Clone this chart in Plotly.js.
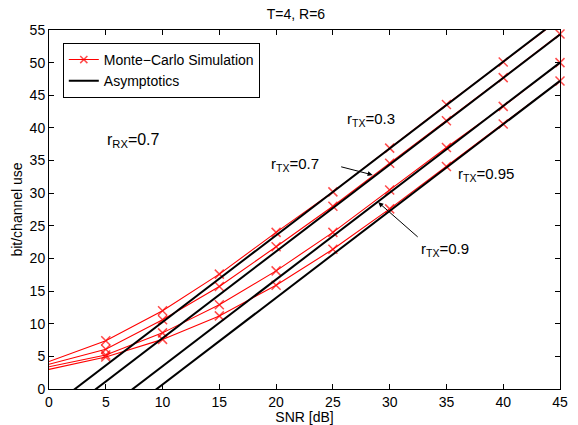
<!DOCTYPE html>
<html>
<head>
<meta charset="utf-8">
<script src="https://cdn.plot.ly/plotly-3.0.1.min.js"></script>
<style>html,body{margin:0;padding:0;background:#fff;}#chart{width:578px;height:425px;}</style>
</head>
<body>
<div id="chart"></div>
<script>
// SNR grid of the Monte-Carlo simulation [dB]
const snr = [0, 5, 10, 15, 20, 25, 30, 35, 40, 45];
// Monte-Carlo simulation results [bit/channel use]
const mc_r03  = [4.2, 7.4, 12.0, 17.6, 24.0, 30.2, 36.9, 43.6, 50.1, 56.7];
const mc_r07  = [3.8, 6.1, 10.6, 15.7, 21.8, 28.0, 34.6, 41.1, 47.7, 54.4];
const mc_r09  = [3.4, 5.2, 8.6, 12.9, 18.1, 24.0, 30.5, 37.0, 43.3, 50.0];
const mc_r095 = [3.0, 4.9, 7.6, 11.2, 15.9, 21.4, 27.6, 34.1, 40.6, 47.2];
// Asymptotic lines (end points)
const asymSnr = [0, 45];
const as_r03  = [-3.04, 56.8];
const as_r07  = [-5.5, 54.3];
const as_r09  = [-9.8, 50.0];
const as_r095 = [-12.6, 47.2];
// Tick values
const xTicks = [0, 5, 10, 15, 20, 25, 30, 35, 40, 45];
const yTicks = [0, 5, 10, 15, 20, 25, 30, 35, 40, 45, 50, 55];

const xMin = 0, xMax = 45, yMin = 0, yMax = 55;
const red = '#ff0000';
const mcSeries = [mc_r03, mc_r07, mc_r09, mc_r095];
const asSeries = [as_r03, as_r07, as_r09, as_r095];

const traces = [];
mcSeries.forEach((ys, i) => {
  // markers are shown only inside the axes (first SNR point has no marker in the source)
  const sizes = ys.map((v, k) => (snr[k] > xMin && v <= yMax) ? 9 : 0);
  traces.push({
    x: snr, y: ys, mode: 'lines+markers', type: 'scatter', cliponaxis: false,
    line: {color: red, width: 1.1},
    marker: {symbol: 'x-thin', size: sizes, line: {color: red, width: 1.5}, color: red},
    name: 'Monte\u2212Carlo Simulation', showlegend: i === 0, legendrank: 1,
    hoverinfo: 'skip'
  });
});
asSeries.forEach((ys, i) => {
  traces.push({
    x: asymSnr, y: ys, mode: 'lines', type: 'scatter',
    line: {color: '#000000', width: 2},
    name: 'Asymptotics', showlegend: i === 0, legendrank: 2,
    hoverinfo: 'skip'
  });
});

const fontFam = 'Liberation Sans, Arial, Helvetica, sans-serif';
const annFont = {family: fontFam, size: 15, color: '#000'};

const layout = {
  width: 578, height: 425,
  margin: {l: 49, r: 18, t: 30, b: 36},
  paper_bgcolor: '#fff', plot_bgcolor: '#fff',
  font: {family: fontFam, size: 14, color: '#000'},
  title: {text: 'T=4, R=6', font: {family: fontFam, size: 14, color: '#000'}, x: 0.512, xanchor: 'center', y: 0.968, yanchor: 'middle'},
  xaxis: {
    range: [xMin, xMax], tickvals: xTicks, ticks: 'inside', ticklen: 5, tickcolor: '#000',
    showline: true, linecolor: '#000', linewidth: 1, mirror: 'ticks', showgrid: false, zeroline: false,
    title: {text: 'SNR [dB]', font: {family: fontFam, size: 14}, standoff: 1},
    tickfont: {family: fontFam, size: 14}
  },
  yaxis: {
    range: [yMin, yMax], tickvals: yTicks, ticks: 'inside', ticklen: 5, tickcolor: '#000',
    showline: true, linecolor: '#000', linewidth: 1, mirror: 'ticks', showgrid: false, zeroline: false,
    title: {text: 'bit/channel use', font: {family: fontFam, size: 14}, standoff: 3},
    tickfont: {family: fontFam, size: 14}
  },
  legend: {
    x: 0.027, y: 0.964, xanchor: 'left', yanchor: 'top',
    bgcolor: '#fff', bordercolor: '#000', borderwidth: 1,
    font: {family: fontFam, size: 14}, tracegroupgap: 0, itemwidth: 30,
    traceorder: 'normal'
  },
  showlegend: true,
  annotations: [
    {x: 4.9, y: 38.1, xref: 'x', yref: 'y', xanchor: 'left', yanchor: 'middle', showarrow: false,
     text: 'r<sub>RX</sub>=0.7', font: {family: fontFam, size: 16}},
    {x: 26.1, y: 41.3, xref: 'x', yref: 'y', xanchor: 'left', yanchor: 'middle', showarrow: false,
     text: 'r<sub>TX</sub>=0.3', font: annFont},
    {x: 19.4, y: 34.4, xref: 'x', yref: 'y', xanchor: 'left', yanchor: 'middle', showarrow: false,
     text: 'r<sub>TX</sub>=0.7', font: annFont},
    {x: 35.8, y: 32.8, xref: 'x', yref: 'y', xanchor: 'left', yanchor: 'middle', showarrow: false,
     text: 'r<sub>TX</sub>=0.95', font: annFont},
    {x: 32.6, y: 21.3, xref: 'x', yref: 'y', xanchor: 'left', yanchor: 'middle', showarrow: false,
     text: 'r<sub>TX</sub>=0.9', font: annFont},
    {x: 28.5, y: 32.8, ax: 25.6, ay: 34.1, xref: 'x', yref: 'y', axref: 'x', ayref: 'y',
     showarrow: true, arrowhead: 2, arrowsize: 1, arrowwidth: 1, arrowcolor: '#000', text: ''},
    {x: 29.0, y: 28.6, ax: 32.6, ay: 23.1, xref: 'x', yref: 'y', axref: 'x', ayref: 'y',
     showarrow: true, arrowhead: 2, arrowsize: 1, arrowwidth: 1, arrowcolor: '#000', text: ''}
  ]
};

Plotly.newPlot('chart', traces, layout, {displayModeBar: false, staticPlot: true});
</script>
</body>
</html>
